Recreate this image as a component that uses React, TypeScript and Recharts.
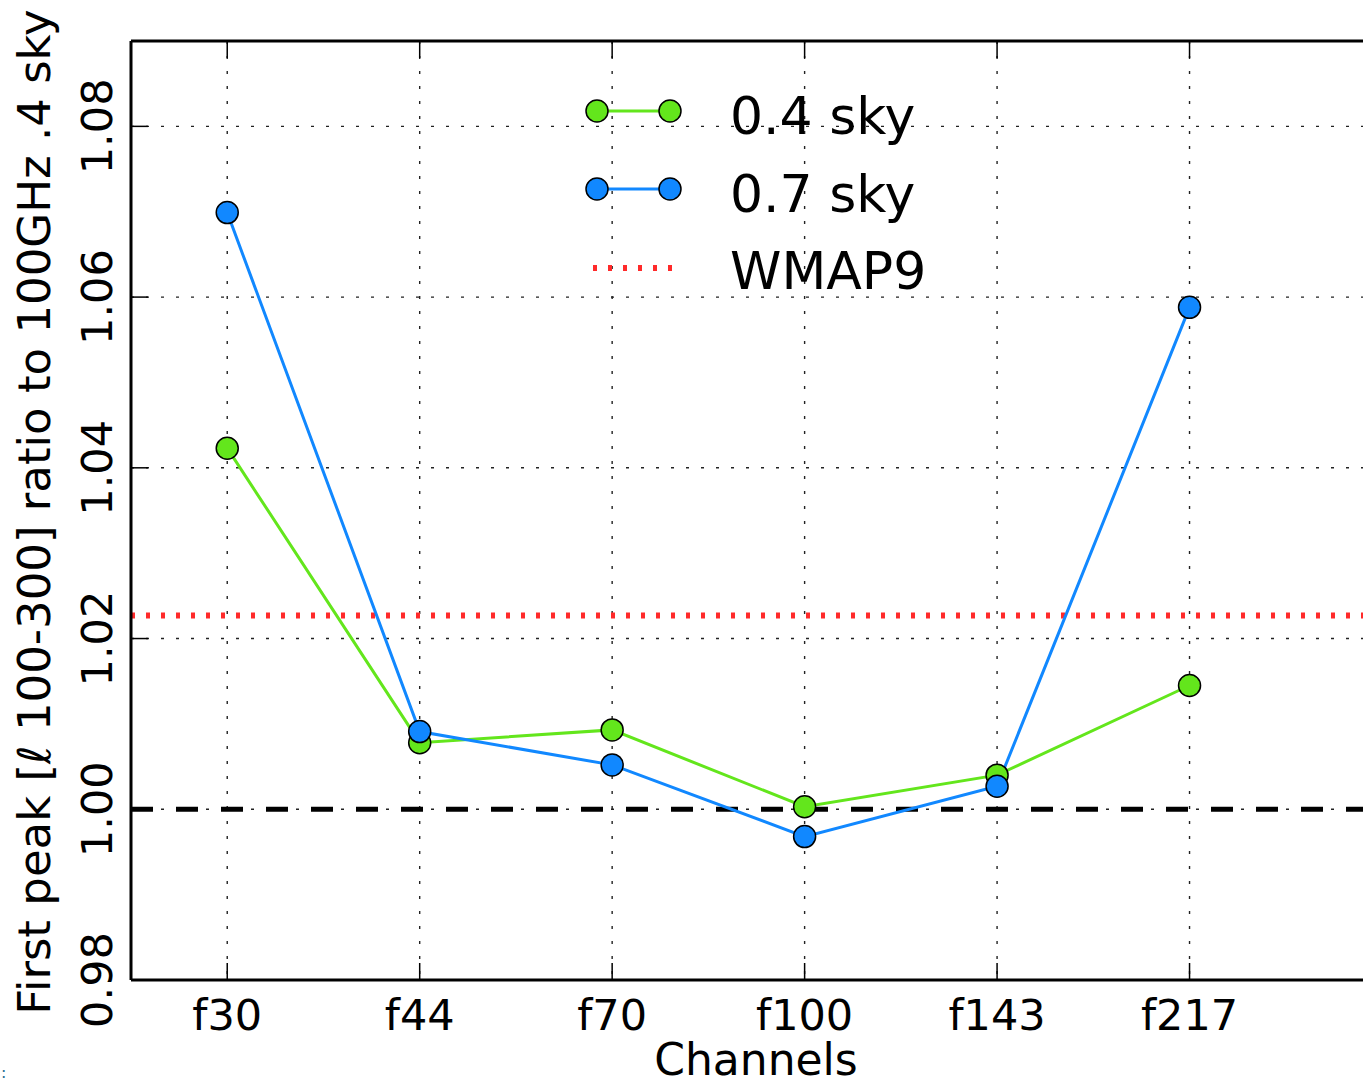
import React from 'react';
import { ComposedChart, Line, XAxis, YAxis, CartesianGrid, ReferenceLine } from 'recharts';

const channels = ['f30', 'f44', 'f70', 'f100', 'f143', 'f217'];
const sky04 = [1.0423, 1.0078, 1.0093, 1.0003, 1.004, 1.0145];
const sky07 = [1.0699, 1.0091, 1.0052, 0.9968, 1.0027, 1.0588];
const wmap9 = 1.0227;
const unity = 1.0;
const yTop = 1.09;
const yTicks = [0.98, 1.0, 1.02, 1.04, 1.06, 1.08];
const xTicks = [0, 1, 2, 3, 4, 5];

const GREEN = '#63e61c';
const BLUE = '#1188ff';
const RED = '#ff2a2a';
const FONT = '"DejaVu Sans", sans-serif';

const rows = channels.map((name, i) => ({ x: i, name, g: sky04[i], b: sky07[i] }));

function XTick(props: any) {
  const { x, y, payload } = props;
  return (
    <g>
      <line x1={x} x2={x} y1={y} y2={y - 17} stroke="#000" strokeWidth={1.5} />
      <line x1={x} x2={x} y1={41} y2={58} stroke="#000" strokeWidth={1.5} />
      <text x={x} y={y + 50} textAnchor="middle" fontSize={43} fontFamily={FONT} fill="#000">
        {channels[payload.value]}
      </text>
    </g>
  );
}

function YTick(props: any) {
  const { x, y, payload } = props;
  const tx = x - 19;
  return (
    <g>
      <line x1={x} x2={x + 17} y1={y} y2={y} stroke="#000" strokeWidth={1.5} />
      <text
        x={tx}
        y={y}
        transform={`rotate(-90 ${tx} ${y})`}
        textAnchor="middle"
        fontSize={43}
        fontFamily={FONT}
        fill="#000"
      >
        {Number(payload.value).toFixed(2)}
      </text>
    </g>
  );
}

export default function App() {
  return (
    <div
      style={{
        position: 'absolute',
        left: 0,
        top: 0,
        width: 1363,
        height: 1085,
        overflow: 'hidden',
        background: '#fff',
        fontFamily: FONT,
      }}
    >
      <ComposedChart width={1382} height={1085} data={rows} margin={{ top: 41, right: 0, bottom: 0, left: 0 }}>
        <CartesianGrid stroke="#222" strokeDasharray="3 12" strokeWidth={1.4} />
        <XAxis
          dataKey="x"
          type="number"
          domain={[-0.5, 6]}
          ticks={xTicks}
          height={105}
          tickSize={0}
          tickMargin={0}
          tickLine={false}
          tick={<XTick />}
          axisLine={{ stroke: '#000', strokeWidth: 3 }}
          allowDataOverflow
        />
        <YAxis
          type="number"
          domain={[0.98, yTop]}
          ticks={yTicks}
          width={131}
          tickSize={0}
          tickMargin={0}
          tickLine={false}
          tick={<YTick />}
          axisLine={{ stroke: '#000', strokeWidth: 3 }}
          allowDataOverflow
        />
        <ReferenceLine y={yTop} stroke="#000" strokeWidth={3} ifOverflow="visible" />
        <ReferenceLine y={unity} stroke="#000" strokeWidth={5} strokeDasharray="22 23" />
        <ReferenceLine y={wmap9} stroke={RED} strokeWidth={6} strokeDasharray="4 11" />
        <Line
          dataKey="g"
          stroke={GREEN}
          strokeWidth={3}
          dot={{ r: 11, fill: GREEN, stroke: '#000', strokeWidth: 1.5 }}
          isAnimationActive={false}
        />
        <Line
          dataKey="b"
          stroke={BLUE}
          strokeWidth={3}
          dot={{ r: 11, fill: BLUE, stroke: '#000', strokeWidth: 1.5 }}
          isAnimationActive={false}
        />
      </ComposedChart>
      <svg
        width={1363}
        height={1085}
        style={{ position: 'absolute', left: 0, top: 0, pointerEvents: 'none' }}
      >
        {/* legend */}
        <line x1={597} x2={670} y1={111} y2={111} stroke={GREEN} strokeWidth={3} />
        <circle cx={597} cy={111} r={11} fill={GREEN} stroke="#000" strokeWidth={1.5} />
        <circle cx={670} cy={111} r={11} fill={GREEN} stroke="#000" strokeWidth={1.5} />
        <text x={730} y={134} fontSize={52} fontFamily={FONT} fill="#000">0.4 sky</text>
        <line x1={597} x2={670} y1={189} y2={189} stroke={BLUE} strokeWidth={3} />
        <circle cx={597} cy={189} r={11} fill={BLUE} stroke="#000" strokeWidth={1.5} />
        <circle cx={670} cy={189} r={11} fill={BLUE} stroke="#000" strokeWidth={1.5} />
        <text x={730} y={212} fontSize={52} fontFamily={FONT} fill="#000">0.7 sky</text>
        <line x1={593} x2={673} y1={268} y2={268} stroke={RED} strokeWidth={6} strokeDasharray="4 11" />
        <text x={730} y={289} fontSize={52} fontFamily={FONT} fill="#000">WMAP9</text>
        {/* axis titles */}
        <text x={756} y={1075} textAnchor="middle" fontSize={44} fontFamily={FONT} fill="#000">
          Channels
        </text>
        <text
          x={50}
          y={512}
          transform="rotate(-90 50 512)"
          textAnchor="middle"
          fontSize={45}
          fontFamily={FONT}
          fill="#000"
        >
          First peak [<tspan fontStyle="italic">ℓ</tspan> 100-300] ratio to 100GHz .4 sky
        </text>
        <text x={1} y={1078} fontSize={16} fontFamily={FONT} fill="#2a7090">:</text>
      </svg>
    </div>
  );
}
